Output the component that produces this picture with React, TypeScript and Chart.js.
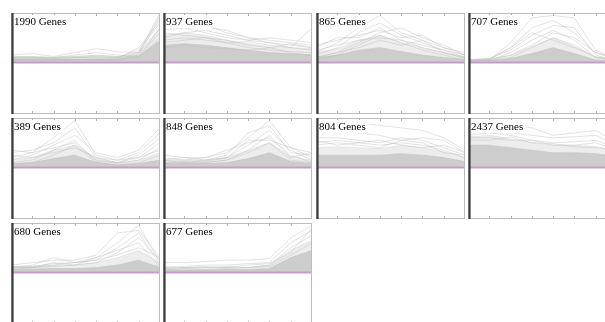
import React, { useEffect, useRef } from 'react';
import { Chart, registerables } from 'chart.js';
Chart.register(...registerables);

// x positions (time points) shared by every cluster
const timePoints = [0, 1, 2, 3, 4, 5, 6, 7];
const clusterLabels = ['1990 Genes', '937 Genes', '865 Genes', '707 Genes', '389 Genes', '848 Genes', '804 Genes', '2437 Genes', '680 Genes', '677 Genes'];
const baselineValues = [0, 0, 0, 0, 0, 0, 0, 0];

// Cluster 1 (1990 genes)
const c1Core = [0.07, 0.07, 0.06, 0.07, 0.07, 0.07, 0.12, 0.45];
const c1Halo = [0.12, 0.12, 0.1, 0.12, 0.14, 0.12, 0.2, 0.7];
const c1Lines = [
  [0.15, 0.18, 0.12, 0.2, 0.28, 0.22, 0.2, 1.0],
  [0.1, 0.12, 0.1, 0.12, 0.15, 0.12, 0.15, 0.9],
  [0.08, 0.1, 0.08, 0.1, 0.1, 0.1, 0.25, 0.8],
  [0.12, 0.1, 0.1, 0.15, 0.2, 0.15, 0.1, 0.7],
  [0.05, 0.06, 0.05, 0.06, 0.07, 0.06, 0.2, 0.95],
  [0.05, 0.05, 0.06, 0.05, 0.05, 0.05, 0.15, 0.6],
  [0.06, 0.05, 0.05, 0.06, 0.06, 0.08, 0.3, 0.85],
  [0.1, 0.08, 0.08, 0.1, 0.12, 0.1, 0.12, 0.5],
];

// Cluster 2 (937 genes)
const c2Core = [0.35, 0.38, 0.35, 0.3, 0.25, 0.2, 0.18, 0.15];
const c2Halo = [0.55, 0.6, 0.55, 0.45, 0.38, 0.32, 0.3, 0.28];
const c2Lines = [
  [0.75, 0.8, 0.75, 0.6, 0.5, 0.45, 0.4, 0.35],
  [0.65, 0.7, 0.72, 0.65, 0.5, 0.4, 0.35, 0.3],
  [0.5, 0.6, 0.65, 0.55, 0.45, 0.5, 0.45, 0.4],
  [0.45, 0.5, 0.45, 0.4, 0.42, 0.35, 0.3, 0.7],
  [0.6, 0.55, 0.5, 0.45, 0.35, 0.3, 0.38, 0.3],
  [0.4, 0.45, 0.5, 0.4, 0.3, 0.25, 0.22, 0.2],
  [0.3, 0.35, 0.3, 0.28, 0.25, 0.3, 0.2, 0.15],
  [0.85, 0.7, 0.6, 0.5, 0.45, 0.4, 0.3, 0.25],
];

// Cluster 3 (865 genes)
const c3Core = [0.1, 0.15, 0.25, 0.3, 0.22, 0.15, 0.1, 0.06];
const c3Halo = [0.2, 0.28, 0.45, 0.55, 0.4, 0.3, 0.2, 0.12];
const c3Lines = [
  [0.2, 0.4, 0.7, 0.95, 0.6, 0.45, 0.3, 0.15],
  [0.15, 0.3, 0.6, 0.8, 0.55, 0.4, 0.25, 0.1],
  [0.35, 0.45, 0.55, 0.65, 0.5, 0.55, 0.3, 0.2],
  [0.3, 0.5, 0.5, 0.7, 0.45, 0.3, 0.2, 0.1],
  [0.1, 0.2, 0.4, 0.6, 0.7, 0.5, 0.35, 0.15],
  [0.25, 0.35, 0.45, 0.5, 0.45, 0.35, 0.25, 0.15],
  [0.1, 0.2, 0.3, 0.45, 0.35, 0.45, 0.2, 0.08],
  [0.05, 0.15, 0.35, 0.55, 0.4, 0.25, 0.15, 0.05],
];

// Cluster 4 (707 genes)
const c4Core = [0.03, 0.04, 0.08, 0.18, 0.3, 0.18, 0.05, 0.03];
const c4Halo = [0.05, 0.06, 0.15, 0.32, 0.5, 0.32, 0.1, 0.05];
const c4Lines = [
  [0.05, 0.05, 0.4, 0.9, 0.95, 0.9, 0.25, 0.05],
  [0.03, 0.05, 0.3, 0.7, 0.85, 0.6, 0.2, 0.05],
  [0.05, 0.08, 0.25, 0.55, 0.75, 0.7, 0.15, 0.03],
  [0.02, 0.04, 0.2, 0.45, 0.65, 0.45, 0.1, 0.04],
  [0.05, 0.06, 0.15, 0.35, 0.6, 0.5, 0.2, 0.08],
  [0.04, 0.05, 0.1, 0.3, 0.5, 0.35, 0.1, 0.05],
  [0.06, 0.08, 0.3, 0.6, 0.45, 0.3, 0.12, 0.06],
];

// Cluster 5 (389 genes)
const c5Core = [0.08, 0.1, 0.18, 0.25, 0.1, 0.05, 0.08, 0.15];
const c5Halo = [0.15, 0.2, 0.35, 0.45, 0.18, 0.1, 0.15, 0.3];
const c5Lines = [
  [0.2, 0.3, 0.6, 0.95, 0.25, 0.15, 0.3, 0.7],
  [0.3, 0.35, 0.5, 0.8, 0.2, 0.1, 0.2, 0.5],
  [0.15, 0.25, 0.45, 0.65, 0.3, 0.2, 0.35, 0.8],
  [0.35, 0.3, 0.4, 0.5, 0.15, 0.08, 0.15, 0.4],
  [0.1, 0.15, 0.35, 0.55, 0.12, 0.1, 0.25, 0.6],
  [0.25, 0.2, 0.3, 0.4, 0.2, 0.15, 0.2, 0.35],
  [0.05, 0.1, 0.25, 0.45, 0.1, 0.05, 0.1, 0.25],
];

// Cluster 6 (848 genes)
const c6Core = [0.08, 0.08, 0.08, 0.1, 0.18, 0.3, 0.12, 0.08];
const c6Halo = [0.15, 0.15, 0.15, 0.2, 0.35, 0.5, 0.22, 0.15];
const c6Lines = [
  [0.2, 0.15, 0.2, 0.3, 0.6, 0.95, 0.4, 0.2],
  [0.15, 0.2, 0.15, 0.25, 0.7, 0.85, 0.3, 0.25],
  [0.1, 0.1, 0.15, 0.2, 0.45, 0.75, 0.35, 0.15],
  [0.25, 0.2, 0.2, 0.35, 0.5, 0.6, 0.25, 0.1],
  [0.1, 0.12, 0.1, 0.15, 0.35, 0.65, 0.2, 0.3],
  [0.05, 0.08, 0.1, 0.15, 0.3, 0.5, 0.15, 0.1],
  [0.15, 0.1, 0.12, 0.2, 0.55, 0.55, 0.4, 0.3],
];

// Cluster 7 (804 genes)
const c7Core = [0.25, 0.25, 0.25, 0.25, 0.28, 0.25, 0.2, 0.12];
const c7Halo = [0.4, 0.42, 0.4, 0.38, 0.45, 0.4, 0.32, 0.2];
const c7Lines = [
  [0.8, 0.85, 0.9, 0.85, 0.8, 0.75, 0.6, 0.35],
  [0.7, 0.75, 0.7, 0.65, 0.55, 0.6, 0.55, 0.3],
  [0.6, 0.6, 0.55, 0.5, 0.6, 0.55, 0.4, 0.25],
  [0.5, 0.55, 0.5, 0.45, 0.5, 0.45, 0.35, 0.2],
  [0.45, 0.5, 0.45, 0.4, 0.55, 0.5, 0.3, 0.25],
  [0.55, 0.45, 0.5, 0.55, 0.45, 0.4, 0.45, 0.3],
];

// Cluster 8 (2437 genes)
const c8Core = [0.45, 0.45, 0.4, 0.35, 0.3, 0.3, 0.28, 0.22];
const c8Halo = [0.62, 0.65, 0.58, 0.5, 0.45, 0.45, 0.42, 0.32];
const c8Lines = [
  [0.75, 0.85, 0.85, 0.8, 0.65, 0.7, 0.75, 0.5],
  [0.7, 0.75, 0.7, 0.65, 0.6, 0.62, 0.65, 0.45],
  [0.65, 0.7, 0.65, 0.55, 0.5, 0.52, 0.55, 0.4],
  [0.6, 0.6, 0.55, 0.55, 0.45, 0.45, 0.5, 0.35],
  [0.55, 0.55, 0.62, 0.5, 0.48, 0.42, 0.4, 0.38],
];

// Cluster 9 (680 genes)
const c9Core = [0.06, 0.07, 0.08, 0.08, 0.1, 0.15, 0.25, 0.1];
const c9Halo = [0.12, 0.13, 0.15, 0.15, 0.2, 0.3, 0.45, 0.18];
const c9Lines = [
  [0.1, 0.15, 0.3, 0.2, 0.3, 0.6, 0.95, 0.2],
  [0.15, 0.2, 0.25, 0.25, 0.35, 0.8, 0.85, 0.3],
  [0.1, 0.1, 0.15, 0.2, 0.25, 0.5, 0.8, 0.15],
  [0.05, 0.1, 0.2, 0.15, 0.2, 0.4, 0.7, 0.25],
  [0.12, 0.1, 0.12, 0.15, 0.3, 0.45, 0.6, 0.1],
  [0.08, 0.12, 0.18, 0.2, 0.25, 0.35, 0.5, 0.3],
];

// Cluster 10 (677 genes)
const c10Core = [0.05, 0.05, 0.05, 0.06, 0.06, 0.08, 0.3, 0.45];
const c10Halo = [0.08, 0.08, 0.1, 0.1, 0.1, 0.15, 0.45, 0.65];
const c10Lines = [
  [0.2, 0.2, 0.22, 0.25, 0.25, 0.28, 0.7, 0.95],
  [0.1, 0.12, 0.15, 0.15, 0.18, 0.2, 0.6, 0.85],
  [0.08, 0.1, 0.1, 0.12, 0.1, 0.15, 0.5, 0.75],
  [0.05, 0.08, 0.06, 0.08, 0.1, 0.12, 0.35, 0.6],
  [0.12, 0.1, 0.12, 0.1, 0.15, 0.18, 0.4, 0.9],
];

const clusterCores = [c1Core, c2Core, c3Core, c4Core, c5Core, c6Core, c7Core, c8Core, c9Core, c10Core];
const clusterHalos = [c1Halo, c2Halo, c3Halo, c4Halo, c5Halo, c6Halo, c7Halo, c8Halo, c9Halo, c10Halo];
const clusterLines = [c1Lines, c2Lines, c3Lines, c4Lines, c5Lines, c6Lines, c7Lines, c8Lines, c9Lines, c10Lines];

const COL_LEFT = [11, 163, 316, 468];
const ROW_TOP = [13, 118, 223];
const PANEL_W = 149;
const PANEL_H = 101;

const toXY = (vals: number[]) => vals.map((v, i) => ({ x: timePoints[i], y: v }));

function Panel({ index }: { index: number }) {
  const ref = useRef<HTMLCanvasElement | null>(null);
  useEffect(() => {
    if (!ref.current) return;
    const label = clusterLabels[index];
    const framePlugin = {
      id: 'frame' + index,
      afterDraw(chart: any) {
        const { ctx, chartArea } = chart;
        const { left, right, top, bottom } = chartArea;
        const xs = chart.scales.x;
        ctx.save();
        ctx.strokeStyle = '#bdbdbd';
        ctx.lineWidth = 1;
        ctx.strokeRect(left + 0.5, top + 0.5, right - left - 1, bottom - top - 1);
        ctx.strokeStyle = '#b0b0b0';
        for (let i = 1; i < timePoints.length; i++) {
          const px = Math.round(xs.getPixelForValue(timePoints[i])) + 0.5;
          ctx.beginPath();
          ctx.moveTo(px, top);
          ctx.lineTo(px, top + 3);
          ctx.moveTo(px, bottom - 3);
          ctx.lineTo(px, bottom);
          ctx.stroke();
        }
        ctx.font = '11px "Liberation Serif", "Times New Roman", serif';
        const w = ctx.measureText(label).width;
        ctx.fillStyle = '#ffffff';
        ctx.fillRect(left + 2, top + 2, w + 4, 13);
        ctx.fillStyle = '#000000';
        ctx.textBaseline = 'top';
        ctx.fillText(label, left + 3, top + 4);
        ctx.strokeStyle = '#3c3c3c';
        ctx.lineWidth = 2.2;
        ctx.beginPath();
        ctx.moveTo(left + 1.5, top);
        ctx.lineTo(left + 1.5, bottom);
        ctx.stroke();
        ctx.restore();
      },
    };
    const datasets: any[] = [
      {
        data: toXY(baselineValues),
        borderColor: '#c99bcc',
        borderWidth: 2,
        order: 0,
        fill: false,
      },
      ...clusterLines[index].map((vals) => ({
        data: toXY(vals),
        borderColor: 'rgba(190,190,190,0.45)',
        borderWidth: 1,
        order: 1,
        fill: false,
      })),
      {
        data: toXY(clusterCores[index]),
        borderColor: 'rgba(190,190,190,0.5)',
        backgroundColor: 'rgba(192,192,192,0.7)',
        borderWidth: 1,
        order: 2,
        fill: 'origin',
      },
      {
        data: toXY(clusterHalos[index]),
        borderColor: 'rgba(215,215,215,0.5)',
        backgroundColor: 'rgba(222,222,222,0.55)',
        borderWidth: 1,
        order: 3,
        fill: 'origin',
      },
    ];
    const chart = new Chart(ref.current, {
      type: 'line',
      data: { datasets },
      options: {
        responsive: false,
        maintainAspectRatio: false,
        animation: false,
        layout: { padding: 0 },
        plugins: { legend: { display: false }, tooltip: { enabled: false } },
        elements: { point: { radius: 0 }, line: { tension: 0 } },
        scales: {
          x: { type: 'linear', min: 0, max: 7, display: false },
          y: { min: -1.04, max: 1, display: false },
        },
      },
      plugins: [framePlugin],
    });
    return () => chart.destroy();
  }, [index]);
  const col = index % 4;
  const row = Math.floor(index / 4);
  return (
    <canvas
      ref={ref}
      width={PANEL_W}
      height={PANEL_H}
      style={{ position: 'absolute', left: COL_LEFT[col], top: ROW_TOP[row], width: PANEL_W, height: PANEL_H, display: 'block' }}
    />
  );
}

export default function App() {
  return (
    <div style={{ position: 'fixed', left: 0, top: 0, width: 605, height: 322, overflow: 'hidden', background: '#fff' }}>
      {clusterLabels.map((_, i) => (
        <Panel key={i} index={i} />
      ))}
    </div>
  );
}
